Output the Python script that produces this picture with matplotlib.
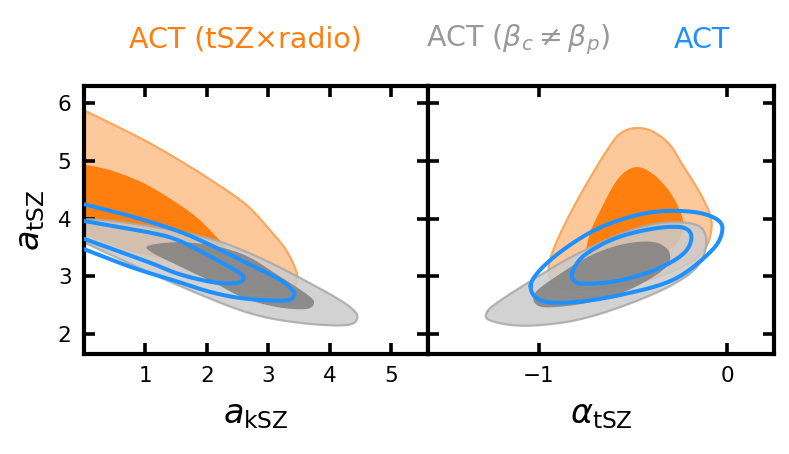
import numpy as np
import matplotlib
matplotlib.use("Agg")
import matplotlib.pyplot as plt

# contour outlines, (x, y) in data units
# left panel: a_kSZ vs a_tSZ  (points with x < 0 sit outside the axes, clipped at the prior edge)
ksz_radio_95 = [(-0.4, 6.08), (0.0, 5.88), (0.5, 5.62), (1.0, 5.35), (1.54, 5.02), (2.08, 4.66),
                (2.63, 4.25), (3.01, 3.82), (3.28, 3.47), (3.44, 3.13), (3.47, 2.95), (3.42, 2.78),
                (3.33, 2.68), (2.9, 2.71), (2.42, 2.8), (1.61, 3.0), (0.79, 3.33), (0.0, 3.58),
                (-0.4, 3.7)]
ksz_radio_68 = [(-0.4, 5.02), (0.0, 4.94), (0.46, 4.83), (1.0, 4.6), (1.54, 4.25), (1.87, 3.99),
                (2.14, 3.7), (2.28, 3.53), (2.3, 3.4), (2.0, 3.3), (1.6, 3.27), (0.8, 3.42),
                (0.0, 3.72), (-0.4, 3.85)]
ksz_beta_95 = [(-0.15, 3.82), (0.02, 3.99), (1.0, 3.88), (2.09, 3.64), (2.9, 3.3), (3.71, 2.86),
               (4.26, 2.52), (4.45, 2.3), (4.26, 2.15), (3.44, 2.2), (2.63, 2.38), (1.54, 2.84),
               (0.46, 3.36), (0.02, 3.59)]
ksz_beta_68 = [(1.05, 3.53), (1.54, 3.59), (2.09, 3.53), (2.63, 3.36), (3.17, 3.01), (3.66, 2.66),
               (3.74, 2.52), (3.61, 2.43), (3.17, 2.46), (2.63, 2.61), (2.09, 2.9), (1.54, 3.18),
               (1.11, 3.41)]
ksz_act_95 = [(-0.4, 4.36), (0.0, 4.25), (0.8, 4.03), (1.54, 3.78), (2.08, 3.53), (2.63, 3.24),
              (3.17, 2.95), (3.37, 2.78), (3.42, 2.68), (3.28, 2.58), (2.63, 2.61), (2.08, 2.72),
              (1.54, 2.9), (0.79, 3.15), (0.0, 3.47), (-0.4, 3.62)]
ksz_act_68 = [(-0.4, 4.06), (0.0, 3.96), (1.06, 3.76), (1.54, 3.62), (2.08, 3.33), (2.47, 3.1),
              (2.6, 2.97), (2.47, 2.88), (2.08, 2.9), (1.54, 3.04), (1.06, 3.24), (0.0, 3.65),
              (-0.4, 3.8)]

# right panel: alpha_tSZ vs a_tSZ
alpha_radio_95 = [(-0.49, 5.57), (-0.4, 5.52), (-0.306, 5.29), (-0.24, 4.95), (-0.155, 4.51),
                  (-0.095, 4.11), (-0.083, 3.82), (-0.119, 3.47), (-0.226, 3.18), (-0.457, 2.9),
                  (-0.724, 2.77), (-0.902, 2.81), (-0.947, 3.07), (-0.929, 3.41), (-0.849, 3.99),
                  (-0.742, 4.63), (-0.635, 5.2), (-0.57, 5.47)]
alpha_radio_68 = [(-0.493, 4.89), (-0.404, 4.8), (-0.315, 4.51), (-0.253, 4.16), (-0.235, 3.88),
                  (-0.279, 3.53), (-0.457, 3.24), (-0.635, 3.15), (-0.742, 3.3), (-0.733, 3.7),
                  (-0.671, 4.16), (-0.582, 4.68)]
alpha_beta_95 = [(-1.276, 2.38), (-1.205, 2.58), (-1.027, 2.95), (-0.813, 3.36), (-0.546, 3.76),
                 (-0.333, 3.93), (-0.155, 3.88), (-0.11, 3.59), (-0.155, 3.18), (-0.297, 2.84),
                 (-0.546, 2.49), (-0.813, 2.23), (-1.08, 2.14), (-1.258, 2.23)]
alpha_beta_68 = [(-1.018, 2.72), (-0.902, 3.01), (-0.724, 3.36), (-0.546, 3.56), (-0.386, 3.59),
                 (-0.306, 3.41), (-0.333, 3.13), (-0.51, 2.78), (-0.724, 2.55), (-0.938, 2.46),
                 (-1.018, 2.52)]
alpha_act_95 = [(-1.044, 2.84), (-0.973, 3.18), (-0.813, 3.59), (-0.635, 3.9), (-0.404, 4.11),
                (-0.19, 4.12), (-0.06, 4.0), (-0.025, 3.8), (-0.08, 3.45), (-0.279, 2.95),
                (-0.546, 2.69), (-0.813, 2.55), (-0.991, 2.58)]
alpha_act_68 = [(-0.822, 3.07), (-0.76, 3.36), (-0.6, 3.65), (-0.404, 3.82), (-0.243, 3.85),
                (-0.19, 3.7), (-0.226, 3.41), (-0.368, 3.13), (-0.582, 2.92), (-0.76, 2.87),
                (-0.813, 2.92)]

labels = ["ACT (tSZ\u00d7radio)", r"ACT ($\beta_c \neq \beta_p$)", "ACT"]
xlabels = [r"$a_{\rm kSZ}$", r"$\alpha_{\rm tSZ}$"]
ylabel = r"$a_{\rm tSZ}$"

ORANGE = "#ff7f0e"
ORANGE_LIGHT = "#fdc99b"
GRAY_TXT = "#999999"
BLUE = "#1e90ff"


def smooth_closed(pts, n=24):
    # closed Catmull-Rom curve through the read-off outline points
    p = np.asarray(pts, dtype=float)
    N = len(p)
    t = np.linspace(0, 1, n, endpoint=False)[:, None]
    segs = []
    for i in range(N):
        p0, p1, p2, p3 = p[i - 1], p[i], p[(i + 1) % N], p[(i + 2) % N]
        segs.append(0.5 * (2 * p1 + (-p0 + p2) * t + (2 * p0 - 5 * p1 + 4 * p2 - p3) * t ** 2
                           + (-p0 + 3 * p1 - 3 * p2 + p3) * t ** 3))
    c = np.vstack(segs)
    return np.vstack([c, c[:1]])


def draw_panel(ax, radio95, radio68, beta95, beta68, act95, act68):
    c = smooth_closed(radio95)
    ax.fill(c[:, 0], c[:, 1], color=ORANGE_LIGHT, lw=0, zorder=1)
    ax.plot(c[:, 0], c[:, 1], color="#f9a860", lw=1.6, zorder=1.1)
    c = smooth_closed(radio68)
    ax.fill(c[:, 0], c[:, 1], color=ORANGE, lw=0, zorder=1.2)

    c = smooth_closed(beta95)
    ax.fill(c[:, 0], c[:, 1], color="#cbcbcb", alpha=0.85, lw=0, zorder=2)
    ax.plot(c[:, 0], c[:, 1], color="#a8a8a8", lw=1.6, alpha=0.85, zorder=2.1)
    c = smooth_closed(beta68)
    ax.fill(c[:, 0], c[:, 1], color="#808080", alpha=0.85, lw=0, zorder=2.2)

    for pts in (act95, act68):
        c = smooth_closed(pts)
        ax.plot(c[:, 0], c[:, 1], color=BLUE, lw=2.9, zorder=3)


fig = plt.figure(figsize=(7.89, 4.54), dpi=100)
ax1 = fig.add_axes([0.1065, 0.2203, 0.436, 0.590])
ax2 = fig.add_axes([0.5425, 0.2203, 0.4385, 0.590], sharey=ax1)

draw_panel(ax1, ksz_radio_95, ksz_radio_68, ksz_beta_95, ksz_beta_68, ksz_act_95, ksz_act_68)
draw_panel(ax2, alpha_radio_95, alpha_radio_68, alpha_beta_95, alpha_beta_68, alpha_act_95, alpha_act_68)

ax1.set_xlim(0, 5.6)
ax2.set_xlim(-1.59, 0.25)
ax1.set_ylim(1.65, 6.3)
ax1.set_xticks([1, 2, 3, 4, 5])
ax2.set_xticks([-1, 0])
ax1.set_yticks([2, 3, 4, 5, 6])

for ax, xl in zip((ax1, ax2), xlabels):
    ax.tick_params(direction="in", length=8, width=2.6, top=True, right=True,
                   labelsize=15.5, pad=9)
    for s in ax.spines.values():
        s.set_linewidth(3)
    ax.set_xlabel(xl, fontsize=24, labelpad=8)
ax2.tick_params(labelleft=False)
ax1.set_ylabel(ylabel, fontsize=24, labelpad=8)

fig.text(0.311, 0.912, labels[0], color=ORANGE, fontsize=20.5, ha="center", va="center")
fig.text(0.657, 0.912, labels[1], color=GRAY_TXT, fontsize=20.5, ha="center", va="center")
fig.text(0.890, 0.912, labels[2], color=BLUE, fontsize=20.5, ha="center", va="center")

fig.savefig("out.png", dpi=100)
